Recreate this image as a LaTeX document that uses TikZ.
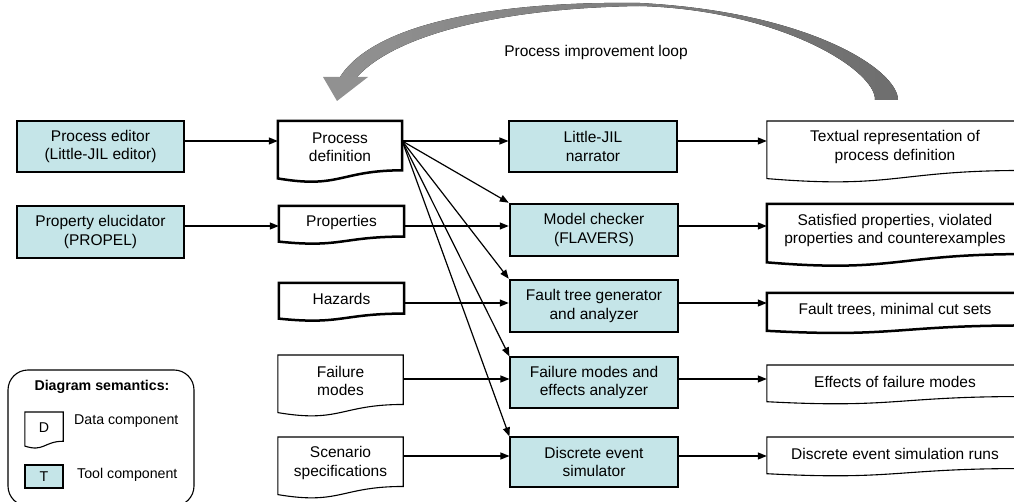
\documentclass[tikz,border=0pt]{standalone}
\usepackage{fontspec}
\setmainfont{Liberation Sans}
\usetikzlibrary{arrows.meta,calc}
\definecolor{toolfill}{RGB}{197,229,232}
\definecolor{loopL}{RGB}{145,145,145}
\definecolor{loopR}{RGB}{110,110,110}
\newcommand{\docwave}[2]{%
  \draw[#1] (#2.north west) -- (#2.north east)
    -- ($(#2.north east)!0.944!(#2.south east)$)
    .. controls ($(#2.north)!0.944!(#2.south)$) and ($(#2.north)!1.302!(#2.south)$)
    .. ($(#2.north west)!1.099!(#2.south west)$) -- cycle;}
\begin{document}
\begin{tikzpicture}[x=1pt,y=-1pt,
  font=\fontsize{15.5}{18.5}\selectfont,
  thk/.style={line width=2.5pt},
  thn/.style={line width=1.1pt},
  tool/.style={draw, fill=toolfill, inner sep=0pt, align=center, minimum width=168pt},
  doc/.style={inner sep=0pt, align=center, anchor=north},
  arr/.style={line width=1.2pt, -{Triangle[length=9pt,width=7pt]}},
  legfont/.style={font=\fontsize{14.2}{17}\selectfont}]
\useasboundingbox (0,0) rectangle (1014,502);

% row reference coordinates
\coordinate (r1) at (0,141);
\coordinate (r2) at (0,226);
\coordinate (r3) at (0,303);
\coordinate (r4) at (0,379);
\coordinate (r5) at (0,456);

% process improvement loop
\fill[left color=loopL, right color=loopR]
  (898,100) .. controls (898,70) and (810,12) .. (640,3)
  .. controls (500,1) and (375,22) .. (340,77)
  -- (357,77) .. controls (395,35) and (500,8) .. (640,6)
  .. controls (780,10) and (876,70) .. (875,100) -- cycle;
\fill[loopL] (323,77) -- (368,77) -- (337,101) -- cycle;
\node (looplbl) at (596,52) {Process improvement loop};

% tool components
\node[tool, thk, minimum width=167pt, minimum height=51pt] (ped) at (100.5,146.5) {Process editor\\(Little-JIL editor)};
\node[tool, thk, minimum width=167pt, minimum height=52pt] (pel) at (100.5,232) {Property elucidator\\(PROPEL)};
\node[tool, thn, minimum height=51pt] (nar) at (593,146.5) {Little-JIL\\narrator};
\node[tool, thk, minimum height=52pt] (mc) at (594,230) {Model checker\\(FLAVERS)};
\node[tool, thk, minimum height=52pt] (ft) at (594,306) {Fault tree generator\\and analyzer};
\node[tool, thn, minimum height=51pt] (fmea) at (594,382.5) {Failure modes and\\effects analyzer};
\node[tool, thn, minimum height=50pt] (des) at (594,462) {Discrete event\\simulator};

% data components (inputs)
\node[doc, minimum width=124pt, minimum height=51.85pt] (pdef) at (340,121) {Process\\definition};
\docwave{thk}{pdef}
\node[doc, minimum width=125pt, minimum height=32pt] (props) at (341.5,206) {Properties};
\docwave{thk}{props}
\node[doc, minimum width=125pt, minimum height=32pt] (haz) at (341.5,283) {Hazards};
\docwave{thk}{haz}
\node[doc, minimum width=125pt, minimum height=52pt] (fmodes) at (340.5,355) {Failure\\modes};
\docwave{thn}{fmodes}
\node[doc, minimum width=125pt, minimum height=52pt] (scen) at (340.5,437) {Scenario\\specifications};
\docwave{thn}{scen}

% data components (outputs)
\node[doc, minimum width=256pt, minimum height=52pt] (txt) at (895,121) {Textual representation of\\process definition};
\docwave{thn}{txt}
\node[doc, minimum width=256pt, minimum height=52.7pt] (sat) at (895,204) {Satisfied properties, violated\\properties and counterexamples};
\docwave{thk}{sat}
\node[doc, minimum width=256pt, minimum height=34pt] (ftr) at (895,293) {Fault trees, minimal cut sets};
\docwave{thk}{ftr}
\node[doc, minimum width=256pt, minimum height=33pt] (eff) at (895,365) {Effects of failure modes};
\docwave{thn}{eff}
\node[doc, minimum width=256pt, minimum height=33pt] (runs) at (895,437) {Discrete event simulation runs};
\docwave{thn}{runs}

% horizontal connectors
\draw[arr] (ped.east|-r1) -- (pdef.west|-r1);
\draw[arr] (pdef.east|-r1) -- (nar.west|-r1);
\draw[arr] (nar.east|-r1) -- (txt.west|-r1);
\draw[arr] (pel.east|-r2) -- (props.west|-r2);
\draw[arr] (props.east|-r2) -- (mc.west|-r2);
\draw[arr] (mc.east|-r2) -- (sat.west|-r2);
\draw[arr] (haz.east|-r3) -- (ft.west|-r3);
\draw[arr] (ft.east|-r3) -- (ftr.west|-r3);
\draw[arr] (fmodes.east|-r4) -- (fmea.west|-r4);
\draw[arr] (fmea.east|-r4) -- (eff.west|-r4);
\draw[arr] (scen.east|-r5) -- (des.west|-r5);
\draw[arr] (des.east|-r5) -- (runs.west|-r5);

% fan from process definition
\coordinate (fan) at (pdef.east|-r1);
\draw[arr] (fan) -- (mc.north west);
\draw[arr] (fan) -- (ft.north west);
\draw[arr] (fan) -- (fmea.north west);
\draw[arr] (fan) -- (des.north west);

% legend
\node[draw, line width=1.1pt, rounded corners=20pt, minimum width=186pt, minimum height=136pt] (leg) at (101,438) {};
\node[legfont, font=\fontsize{14.2}{17}\selectfont\bfseries] (legtitle) at (102,387) {Diagram semantics:};
\node[doc, legfont, minimum width=38pt, minimum height=30.6pt] (legD) at (44,412) {D};
\docwave{thn}{legD}
\node[legfont, anchor=west, inner sep=0pt] (legDtxt) at (74,421) {Data component};
\node[tool, thn, legfont, minimum width=38pt, minimum height=23pt] (legT) at (44,476.5) {T};
\node[legfont, anchor=west, inner sep=0pt] (legTtxt) at (77,475) {Tool component};
\end{tikzpicture}
\end{document}
